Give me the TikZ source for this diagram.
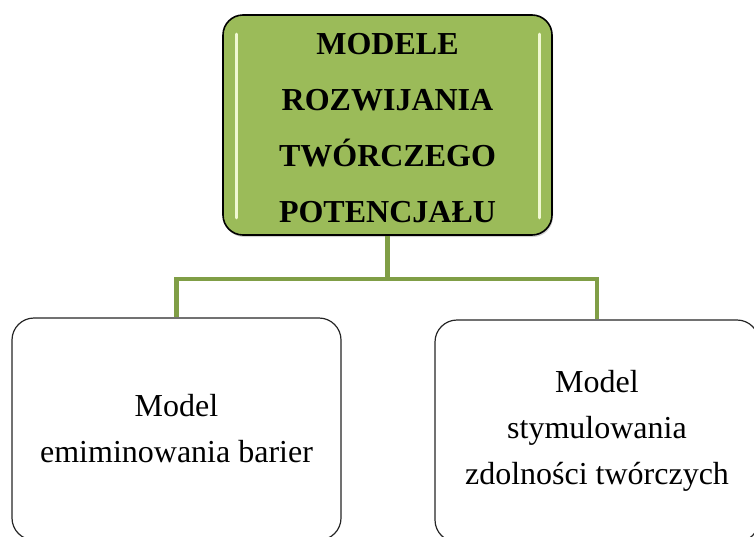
\documentclass[tikz,border=0pt]{standalone}
\usepackage{fontspec}
\setmainfont{Liberation Serif}
\usetikzlibrary{shadows}

\definecolor{olivefill}{RGB}{155,187,89}
\definecolor{oliveline}{RGB}{128,158,70}
\definecolor{glint}{RGB}{240,248,210}

\begin{document}
\begin{tikzpicture}[x=1pt,y=-1pt,
    topstyle/.style={draw=black, line width=1.6pt, fill=olivefill, rounded corners=20pt,
        minimum width=329pt, minimum height=220pt,
        drop shadow={opacity=0.35, shadow xshift=1pt, shadow yshift=-2pt}},
    toptext/.style={align=center, font=\fontsize{32}{56}\selectfont\bfseries},
    subbox/.style={draw=black!85, line width=1.2pt, fill=white, rounded corners=22pt,
        minimum height=222pt, align=center, font=\fontsize{32}{46}\selectfont},
    link/.style={draw=oliveline, line width=4.5pt}
]
    \clip (0,0) rectangle (754,536);
    \useasboundingbox (0,0) rectangle (754,536);

    \node[topstyle] (topbox) at (387.5,125) {};
    \node[toptext] (toptitle) at ([yshift=-3pt]topbox.center) {MODELE\\ROZWIJANIA\\TWÓRCZEGO\\POTENCJAŁU};
    % glossy edges
    \draw[glint, line width=3pt, line cap=round]
        ([xshift=14pt,yshift=-20pt]topbox.north west) -- ([xshift=14pt,yshift=18pt]topbox.south west);
    \draw[glint, line width=3pt, line cap=round]
        ([xshift=-13pt,yshift=-20pt]topbox.north east) -- ([xshift=-13pt,yshift=18pt]topbox.south east);

    \node[subbox, minimum width=329pt] (leftbox) at (176.5,429) {Model\\emiminowania barier};
    \node[subbox, minimum width=324pt] (rightbox) at (597,431) {Model\\stymulowania\\zdolności twórczych};

    \draw[link] (topbox.south) -- ++(0,43) coordinate (fork);
    \draw[link] (fork) -| (leftbox.north);
    \draw[link] (fork) -| (rightbox.north);
\end{tikzpicture}
\end{document}
